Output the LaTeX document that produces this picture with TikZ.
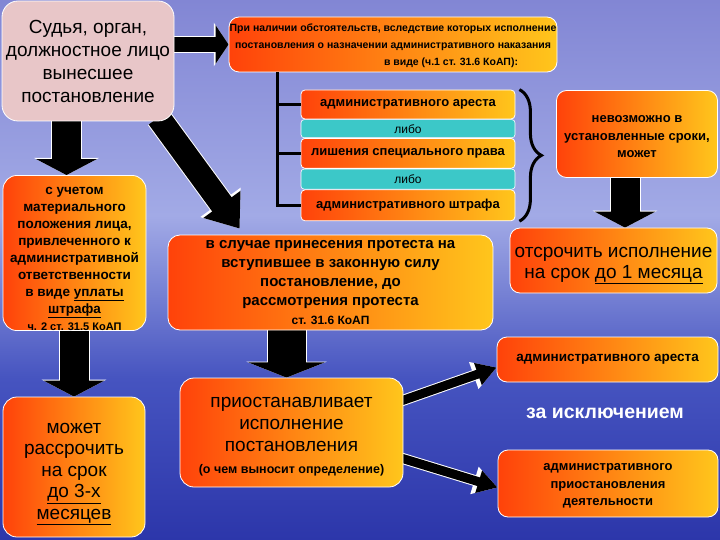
\documentclass[tikz,border=0pt]{standalone}
\usepackage{fontspec}
\setmainfont{Liberation Sans}
\usetikzlibrary{positioning, calc, arrows.meta, decorations.pathreplacing, backgrounds}

\definecolor{skyTop}{HTML}{8286D4}
\definecolor{skyMid}{HTML}{A2AAE6}
\definecolor{skyLow}{HTML}{4654C0}
\definecolor{skyBot}{HTML}{2C36AA}
\definecolor{orgL}{HTML}{FF420A}
\definecolor{orgR}{HTML}{FFC61C}
\definecolor{pinkbox}{HTML}{E8C6C8}
\definecolor{cyanband}{HTML}{3CC8C8}

\pgfdeclareverticalshading{sky}{100bp}{color(0bp)=(skyBot); color(25bp)=(skyBot); color(40bp)=(skyLow); color(55bp)=(skyMid); color(75bp)=(skyTop); color(100bp)=(skyTop)}

\begin{document}
\begin{tikzpicture}[x=1pt, y=-1pt,
    panel/.style={draw=white, line width=0.8pt, rounded corners=10pt, left color=orgL, right color=orgR, align=center, inner sep=0pt, text=black},
    slab/.style={panel, rounded corners=4pt, minimum width=214pt, font=\fontsize{13}{15}\selectfont\bfseries},
    band/.style={draw=white, line width=0.6pt, rounded corners=3pt, fill=cyanband, minimum width=214pt, inner sep=0pt, font=\fontsize{12}{14}\selectfont},
    arr/.style n args={3}{line width=#1, -{Triangle[length=0pt #2, width=0pt #3]}, preaction={draw=white, line width=#1+2pt}},
    tie/.style={line width=3pt}
  ]
  \useasboundingbox (0,0) rectangle (720,540);
  \begin{scope}[on background layer]
    \fill[shading=sky] (0,0) rectangle (720,540);
  \end{scope}

  % Left column
  \node[draw=white, line width=0.8pt, rounded corners=16pt, fill=pinkbox, minimum width=172pt, minimum height=120pt, align=center, inner sep=0pt, font=\fontsize{19}{23}\selectfont] (judge) at (88,61) {Судья, орган,\\должностное лицо\\вынесшее\\постановление};
  \node[panel, rounded corners=14pt, minimum width=143pt, minimum height=150pt, font=\fontsize{13.5}{17}\selectfont\bfseries] (cond) at (74.5,253) {\rule{0pt}{19pt}с учетом\\материального\\положения лица,\\привлеченного к\\административной\\ответственности\\в виде \underline{уплаты}\\\underline{штрафа}\\{\fontsize{11}{17}\selectfont ч. 2 ст. 31.5 КоАП}};
  \node[panel, rounded corners=14pt, minimum width=142pt, minimum height=140pt, font=\fontsize{19}{21.5}\selectfont] (install) at (74,467) {\rule{0pt}{24pt}может\\рассрочить\\на срок\\\underline{до 3-х}\\\underline{месяцев}};

  % Top row
  \node[panel, minimum width=328pt, minimum height=55pt, font=\fontsize{10.5}{17}\selectfont\bfseries] (reason) at (393,44.5) {\rule{0pt}{10pt}При наличии обстоятельств, вследствие которых исполнение\\постановления о назначении административного наказания\\\hspace*{116pt}в виде (ч.1 ст. 31.6 КоАП):};

  % Stack of penalties
  \node[slab, minimum height=29pt] (arrest) at (408,104.5) {административного ареста};
  \node[band, minimum height=18pt, below=0pt of arrest] (or1) {либо};
  \node[slab, minimum height=30pt, below=0pt of or1] (deprive) {лишения специального права};
  \node[band, minimum height=20pt, below=0pt of deprive] (or2) {либо};
  \node[slab, minimum height=31pt, below=0pt of or2] (fine) {административного штрафа};

  \node[panel, minimum width=161pt, minimum height=87pt, font=\fontsize{13}{17.5}\selectfont\bfseries] (impossible) at (637,134) {\rule{0pt}{13pt}невозможно в\\установленные сроки,\\может};

  % Middle and right
  \node[panel, rounded corners=12pt, minimum width=325pt, minimum height=95pt, font=\fontsize{15}{19}\selectfont\bfseries] (protest) at (330.5,282.5) {в случае принесения протеста на\\вступившее в законную силу\\постановление, до\\рассмотрения протеста\\{\fontsize{12}{19}\selectfont ст. 31.6 КоАП}};
  \node[panel, minimum width=207pt, minimum height=65pt, font=\fontsize{19}{21}\selectfont] (defer) at (613.5,260.5) {\rule{0pt}{20pt}отсрочить исполнение\\на срок \underline{до 1 месяца}};
  \node[panel, minimum width=221pt, minimum height=45pt, font=\fontsize{13.5}{16}\selectfont\bfseries] (arrest2) at (607.5,359.5) {административного ареста};
  \node[text=white, inner sep=0pt, font=\fontsize{19.5}{22}\selectfont\bfseries] (except) at (605,413) {за исключением};
  \node[panel, minimum width=220pt, minimum height=67pt, font=\fontsize{13}{17.5}\selectfont\bfseries] (activity) at (608,483.5) {\rule{0pt}{12pt}административного\\приостановления\\деятельности};
  \node[panel, rounded corners=14pt, minimum width=223pt, minimum height=109pt, font=\fontsize{19}{22}\selectfont] (suspend) at (291.5,432.5) {\rule{0pt}{18pt}приостанавливает\\исполнение\\постановления\\{\fontsize{12.5}{21}\selectfont\bfseries (о чем выносит определение)}};

  % Bracket and brace
  \coordinate (trunk) at (277,72);
  \draw[tie] (reason.south -| trunk) -- (trunk |- fine.west) -- (fine.west);
  \draw[tie] (trunk |- arrest.west) -- (arrest.west);
  \draw[tie] (trunk |- deprive.west) -- (deprive.west);
  \draw[tie, decorate, decoration={brace, amplitude=22pt}] ($(arrest.north east)+(4,0)$) -- ($(fine.south east)+(4,0)$);

  % Block arrows
  \begin{scope}[on background layer]
    \draw[arr={15pt}{0.87}{2.53}] ([xshift=-4pt]judge.east |- reason.west) -- (reason.west);
    \draw[arr={29pt}{0.55}{2.07}] ([xshift=-8pt]cond.north |- judge.south) -- ([xshift=-8pt]cond.north);
    \draw[arr={24pt}{1.25}{1.83}] ($(judge.south east)+(-16,-4)$) -- ($(protest.north west)+(72,-6)$);
    \draw[arr={29pt}{0.55}{2.07}] ([xshift=-12pt]impossible.south) -- ([xshift=-12pt]impossible.south |- defer.north);
    \draw[arr={38pt}{0.4}{2}] ([xshift=-5pt]suspend.north |- protest.south) -- ([xshift=-5pt]suspend.north);
    \draw[arr={29pt}{0.55}{2.07}] (cond.south -| install.north) -- (install.north);
    \draw[arr={9pt}{2.2}{2.44}] ($(suspend.north east)+(-4,24)$) -- ($(arrest2.west)+(0,8)$);
    \draw[arr={9pt}{2.2}{2.44}] ($(suspend.east)+(-4,25)$) -- ($(activity.west)+(0,4)$);
  \end{scope}
\end{tikzpicture}
\end{document}
